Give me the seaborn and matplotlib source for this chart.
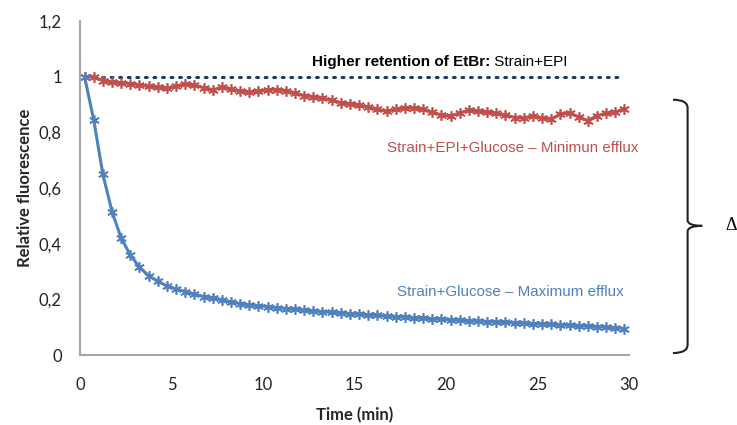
import numpy as np
import pandas as pd
import matplotlib
matplotlib.use("Agg")
import matplotlib.pyplot as plt
import seaborn as sns
from matplotlib.path import Path
from matplotlib.patches import PathPatch

# ---- data ----
time_min = [0.25 + 0.5 * i for i in range(60)]
strain_glucose = [1.0, 0.845, 0.65, 0.515, 0.42, 0.36, 0.315, 0.285, 0.265, 0.248,
                  0.237, 0.228, 0.218, 0.21, 0.205, 0.198, 0.19, 0.185, 0.18, 0.177,
                  0.174, 0.17, 0.167, 0.164, 0.161, 0.158, 0.156, 0.153, 0.151, 0.149,
                  0.146, 0.144, 0.142, 0.14, 0.138, 0.136, 0.134, 0.132, 0.13, 0.128,
                  0.127, 0.125, 0.123, 0.122, 0.12, 0.119, 0.117, 0.116, 0.114, 0.113,
                  0.111, 0.11, 0.108, 0.107, 0.105, 0.104, 0.102, 0.1, 0.098, 0.095]
strain_epi_glucose = [1.0, 1.0, 0.985, 0.98, 0.978, 0.975, 0.97, 0.965, 0.962, 0.958,
                      0.965, 0.972, 0.97, 0.96, 0.952, 0.962, 0.955, 0.948, 0.944, 0.948,
                      0.952, 0.953, 0.95, 0.94, 0.932, 0.928, 0.923, 0.915, 0.906, 0.902,
                      0.898, 0.89, 0.882, 0.876, 0.882, 0.888, 0.887, 0.882, 0.872, 0.862,
                      0.858, 0.87, 0.879, 0.876, 0.873, 0.868, 0.862, 0.853, 0.852, 0.857,
                      0.852, 0.848, 0.865, 0.87, 0.855, 0.842, 0.86, 0.868, 0.872, 0.885]
strain_epi = [1.0] * 60
y_ticks = [0, 0.2, 0.4, 0.6, 0.8, 1.0, 1.2]
y_tick_labels = ["0", "0,2", "0,4", "0,6", "0,8", "1", "1,2"]
x_ticks = [0, 5, 10, 15, 20, 25, 30]

BLUE = "#4F81BD"
RED = "#C0504D"
NAVY = "#1F3864"

sns.set_style("white")
plt.rcParams["font.family"] = ["Lato", "DejaVu Sans"]

fig = plt.figure(figsize=(7.37, 4.25), dpi=100)
ax = fig.add_axes([0.1085, 0.1647, 0.745, 0.786])

df = pd.DataFrame({"t": time_min, "blue": strain_glucose,
                   "red": strain_epi_glucose, "epi": strain_epi})

sns.lineplot(data=df, x="t", y="epi", ax=ax, color=NAVY, linewidth=2.2,
             linestyle=(0, (0.6, 2.2)))
ax.lines[-1].set_dash_capstyle("round")
sns.lineplot(data=df, x="t", y="red", ax=ax, color=RED, linewidth=2.2,
             marker=(6, 2, 0), markersize=7.5, markeredgewidth=1.2,
             markeredgecolor=RED)
sns.lineplot(data=df, x="t", y="blue", ax=ax, color=BLUE, linewidth=2.2,
             marker=(6, 2, 0), markersize=7.5, markeredgewidth=1.2,
             markeredgecolor=BLUE)

ax.set_xlim(0, 30)
ax.set_ylim(0, 1.2)
ax.set_xticks(x_ticks)
ax.set_xticklabels([str(v) for v in x_ticks], fontsize=12, color="#222222")
ax.set_yticks(y_ticks)
ax.set_yticklabels(y_tick_labels, fontsize=12, color="#222222")
ax.tick_params(axis="x", length=0, pad=16)
ax.tick_params(axis="y", length=0, pad=13)
for s in ["top", "right"]:
    ax.spines[s].set_visible(False)
for s in ["left", "bottom"]:
    ax.spines[s].set_color("#A6A6A6")
    ax.spines[s].set_linewidth(1.5)

ax.set_xlabel("Time (min)", fontsize=12, fontweight="bold", labelpad=10)
ax.set_ylabel("Relative fluorescence", fontsize=12, fontweight="bold", labelpad=4)

# annotations
ax.text(22.4, 1.054, "Higher retention of EtBr:", fontsize=11, fontweight="bold",
        family="Liberation Sans", ha="right", va="center", color="black")
ax.text(22.4, 1.054, " Strain+EPI", fontsize=11, family="Liberation Sans",
        ha="left", va="center", color="black")
ax.text(16.8, 0.745, "Strain+EPI+Glucose \u2013 Minimun efflux", fontsize=10.9,
        family="Liberation Sans", ha="left", va="center", color=RED)
ax.text(17.3, 0.227, "Strain+Glucose \u2013 Maximum efflux", fontsize=10.9,
        family="Liberation Sans", ha="left", va="center", color=BLUE)

# bracket
x0, xv, xt = 32.4, 33.2, 34.0
ytop, ymid, ybot = 0.917, 0.464, 0.007
top_half = Path([(x0, ytop), (xv, ytop), (xv, ytop - 0.03),
                 (xv, ymid + 0.02), (xv, ymid), (xt, ymid)],
                [Path.MOVETO, Path.CURVE3, Path.CURVE3,
                 Path.LINETO, Path.CURVE3, Path.CURVE3])
bot_half = Path([(xt, ymid), (xv, ymid), (xv, ymid - 0.02),
                 (xv, ybot + 0.03), (xv, ybot), (x0, ybot)],
                [Path.MOVETO, Path.CURVE3, Path.CURVE3,
                 Path.LINETO, Path.CURVE3, Path.CURVE3])
for p in (top_half, bot_half):
    ax.add_patch(PathPatch(p, facecolor="none", edgecolor="#222222",
                           linewidth=1.5, clip_on=False))
ax.text(35.6, 0.464, "\u0394", fontsize=13, family="Liberation Serif",
        ha="center", va="center", color="black", clip_on=False)

fig.savefig("out.png", dpi=100)
